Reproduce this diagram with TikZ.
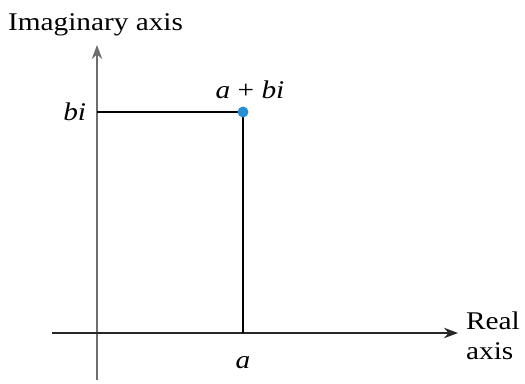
\documentclass[tikz,border=0pt]{standalone}
\usepackage{fontspec}
\setmainfont[FakeStretch=1.15]{Liberation Serif}
\usepackage{tikz}
\usetikzlibrary{arrows.meta,positioning}
\definecolor{axisgray}{HTML}{6E6E6E}
\definecolor{pointblue}{HTML}{2A8FD0}

\begin{document}
\begin{tikzpicture}[
  x=0.02cm, y=0.02cm,
  axis/.style={-{Stealth[length=8pt,width=6pt]}, line width=0.8pt},
  part/.style={line width=1.7pt},
  lbl/.style={font=\fontsize{14.5}{17}\selectfont, inner sep=1pt},
]
\useasboundingbox (0,0) rectangle (525,383);

% axes
\coordinate (o) at (97,50);
\coordinate (ybot) at (97,3);
\coordinate (ytop) at (97,338);
\coordinate (xleft) at (52,50);
\coordinate (xright) at (458,50);
\draw[axis, axisgray] (ybot) -- (ytop);
\draw[axis, black!85] (xleft) -- (xright);

% point a+bi
\coordinate (p) at (243,271);
\coordinate (pa) at (243,50);
\coordinate (pb) at (97,271);
\draw[part] (pb) -- (p);
\draw[part] (p) -- (pa);
\node[circle, fill=pointblue, inner sep=0pt, minimum size=0.22cm] (pt) at (p) {};

% labels
\node[lbl, anchor=west] (imag) at (6,358) {Imaginary axis};
\node[lbl, anchor=west, align=left] (real) at (464,47) {Real\\axis};
\node[lbl, left=5pt of pb] (blbl) {\itshape bi};
\node[lbl, above=3pt of pt, xshift=4pt] (zlbl) {{\itshape a} + {\itshape bi}};
\node[lbl, below=12pt of pa] (albl) {\itshape a};
\end{tikzpicture}
\end{document}
